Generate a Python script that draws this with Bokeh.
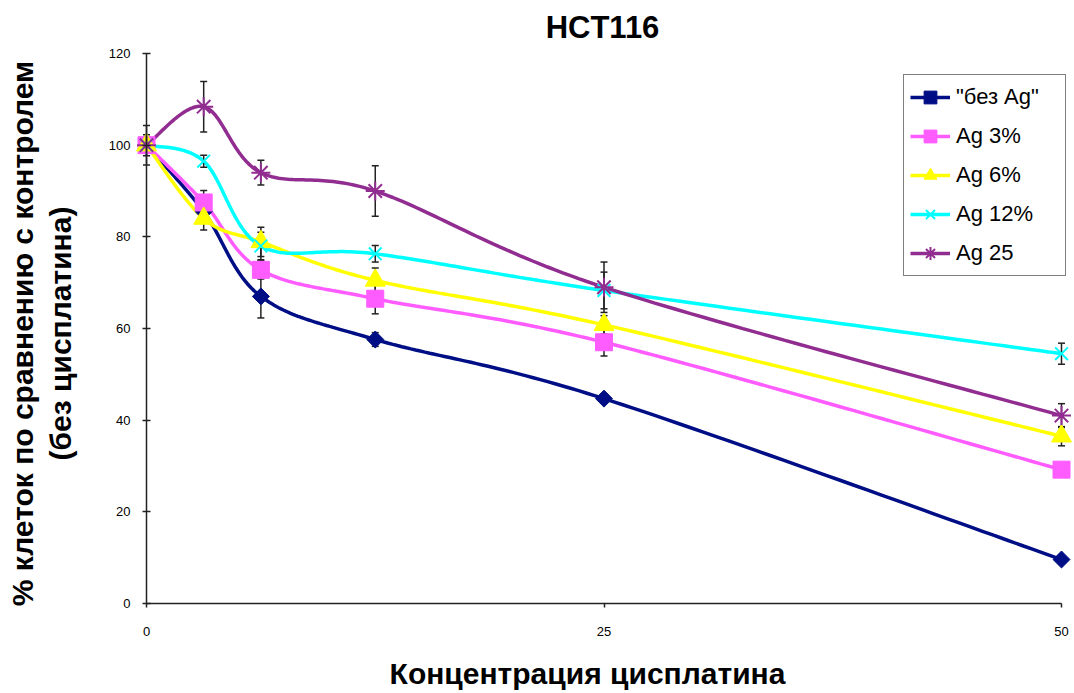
import numpy as np
from bokeh.plotting import figure
from bokeh.models import Range1d, FixedTicker, Label, Legend, LegendItem, ColumnDataSource
from bokeh.embed import file_html
from bokeh.resources import INLINE

# ---- data ----
conc = [0, 3.125, 6.25, 12.5, 25, 50]
series_names = ['"без Ag"', "Ag 3%", "Ag 6%", "Ag 12%", "Ag 25"]
bez_ag = [100, 85.5, 67.0, 57.6, 44.7, 9.6]
bez_ag_err = [4.3, 1.0, 4.7, 1.5, 1.0, 0]
ag3 = [100, 87.5, 72.8, 66.5, 57.0, 29.2]
ag3_err = [2.3, 2.6, 2.0, 3.3, 3.0, 0]
ag6 = [100, 84.0, 78.9, 70.5, 60.8, 36.5]
ag6_err = [0, 2.5, 3.2, 2.7, 2.0, 2.1]
ag12 = [100, 96.5, 78.0, 76.3, 68.3, 54.5]
ag12_err = [0, 1.3, 3.0, 1.8, 4.0, 2.3]
ag25 = [100, 108.4, 94.0, 90.0, 69.0, 41.0]
ag25_err = [0, 5.5, 2.7, 5.5, 5.5, 2.6]
x_ticks = [0, 25, 50]
y_ticks = [0, 20, 40, 60, 80, 100, 120]

values = [bez_ag, ag3, ag6, ag12, ag25]
errors = [bez_ag_err, ag3_err, ag6_err, ag12_err, ag25_err]
colors = ["#000E86", "#FF5CFF", "#FFFF00", "#00FFFF", "#912D90"]
markers = ["square", "square", "triangle", "x", "asterisk"]
msizes = [12, 17, 20, 18, 19]
angles = [np.pi / 4, 0, 0, 0, 0]

FONT = "Liberation Sans"


def smooth(xs, ys, n=40):
    """Excel-like smoothed line (Catmull-Rom as cubic Bezier)."""
    P = np.column_stack([xs, ys]).astype(float)
    m = len(P)
    out = []
    for i in range(m - 1):
        p0 = P[i - 1] if i > 0 else P[i]
        p1 = P[i]
        p2 = P[i + 1]
        p3 = P[i + 2] if i + 2 < m else P[i + 1]
        c1 = p1 + (p2 - p0) / 6.0
        c2 = p2 - (p3 - p1) / 6.0
        t = np.linspace(0, 1, n)[:, None]
        seg = ((1 - t) ** 3) * p1 + 3 * ((1 - t) ** 2) * t * c1 + 3 * (1 - t) * t ** 2 * c2 + t ** 3 * p2
        out.append(seg if i == 0 else seg[1:])
    s = np.vstack(out)
    return s[:, 0], s[:, 1]


W, H = 1074, 693
# plot-area placement (pixels): x 0..50 -> 146..1061, y 0..120 -> 603..53
X0PX, X1PX, Y0PX, Y1PX = 146, 1061, 603, 53
kx = (X1PX - X0PX) / 50.0
ky = (Y0PX - Y1PX) / 120.0
x_range = Range1d(-X0PX / kx, (W - X0PX) / kx)
y_range = Range1d(-(H - Y0PX) / ky, Y0PX / ky)

p = figure(width=W, height=H, output_backend="svg", toolbar_location=None,
           x_range=x_range, y_range=y_range, min_border=0,
           min_border_left=0, min_border_right=0, min_border_top=0, min_border_bottom=0)
p.outline_line_color = None
p.grid.visible = False
p.background_fill_color = "white"
p.border_fill_color = "white"

# axes
p.xaxis.ticker = FixedTicker(ticks=x_ticks)
p.yaxis.ticker = FixedTicker(ticks=y_ticks)
p.xaxis.bounds = (0, 50)
p.yaxis.bounds = (0, 120)
p.xaxis.fixed_location = 0
p.yaxis.fixed_location = 0
for ax in (p.xaxis, p.yaxis):
    ax.axis_line_color = "#222222"
    ax.axis_line_width = 1.5
    ax.major_tick_line_color = "#222222"
    ax.major_tick_line_width = 1.5
    ax.minor_tick_line_color = None
    ax.major_label_text_font = FONT
    ax.major_label_text_font_size = "13px"
    ax.major_label_text_color = "black"
p.xaxis.major_tick_in = 0
p.xaxis.major_tick_out = 4
p.xaxis.major_label_standoff = 19
p.yaxis.major_tick_in = 4
p.yaxis.major_tick_out = 4
p.yaxis.major_label_standoff = 12

items = []
line_rs = []
for name, ys, c in zip(series_names, values, colors):
    sx, sy = smooth(conc, ys)
    line_rs.append(p.line(sx, sy, line_color=c, line_width=3.5))

# error bars
for ys, es in zip(values, errors):
    xs_e = [x for x, e in zip(conc, es) if e > 0]
    lo = [y - e for y, e in zip(ys, es) if e > 0]
    hi = [y + e for y, e in zip(ys, es) if e > 0]
    src = ColumnDataSource(dict(x=xs_e, lo=lo, hi=hi))
    p.segment(x0="x", y0="lo", x1="x", y1="hi", source=src, line_color="#222222", line_width=1.5)
    p.scatter(x="x", y="lo", source=src, marker="dash", size=7, line_color="#222222", line_width=1.5)
    p.scatter(x="x", y="hi", source=src, marker="dash", size=7, line_color="#222222", line_width=1.5)

for name, ys, c, mk, ms, ang, lr in zip(series_names, values, colors, markers, msizes, angles, line_rs):
    src = ColumnDataSource(dict(x=conc, y=ys))
    lw = 2 if mk in ("x", "asterisk") else 1
    mr = p.scatter(x="x", y="y", source=src, marker=mk, size=ms, angle=ang,
                   fill_color=c, line_color=c, line_width=lw)
    items.append(LegendItem(label=name, renderers=[lr, mr]))

# legend box: left 903, top 76, bottom ~276 (pixels)
legend = Legend(items=items, location=(903, H - 276), orientation="vertical",
                border_line_color="black", border_line_width=1,
                background_fill_color="white", background_fill_alpha=1,
                label_text_font=FONT, label_text_font_size="22px",
                label_text_color="black",
                glyph_width=40, glyph_height=32, label_height=32,
                label_standoff=6, spacing=7, padding=6, margin=0,
                label_width=103)
p.add_layout(legend)

# title & axis labels (screen pixels from the bottom-left corner)
p.add_layout(Label(x=602, y=H - 27, x_units="screen", y_units="screen", text="HCT116",
                   text_font=FONT, text_font_style="bold", text_font_size="31px",
                   text_align="center", text_baseline="alphabetic", text_color="black"))
p.add_layout(Label(x=587, y=H - 673, x_units="screen", y_units="screen", text="Концентрация цисплатина",
                   text_font=FONT, text_font_style="bold", text_font_size="30px",
                   text_align="center", text_baseline="alphabetic", text_color="black"))
p.add_layout(Label(x=22, y=H - 333, x_units="screen", y_units="screen", text="% клеток по сравнению с контролем",
                   angle=np.pi / 2, text_font=FONT, text_font_style="bold", text_font_size="30px",
                   text_align="center", text_baseline="alphabetic", text_color="black"))
p.add_layout(Label(x=60, y=H - 333, x_units="screen", y_units="screen", text="(без цисплатина)",
                   angle=np.pi / 2, text_font=FONT, text_font_style="bold", text_font_size="30px",
                   text_align="center", text_baseline="alphabetic", text_color="black"))

open("out.html", "w").write(file_html(p, INLINE))
